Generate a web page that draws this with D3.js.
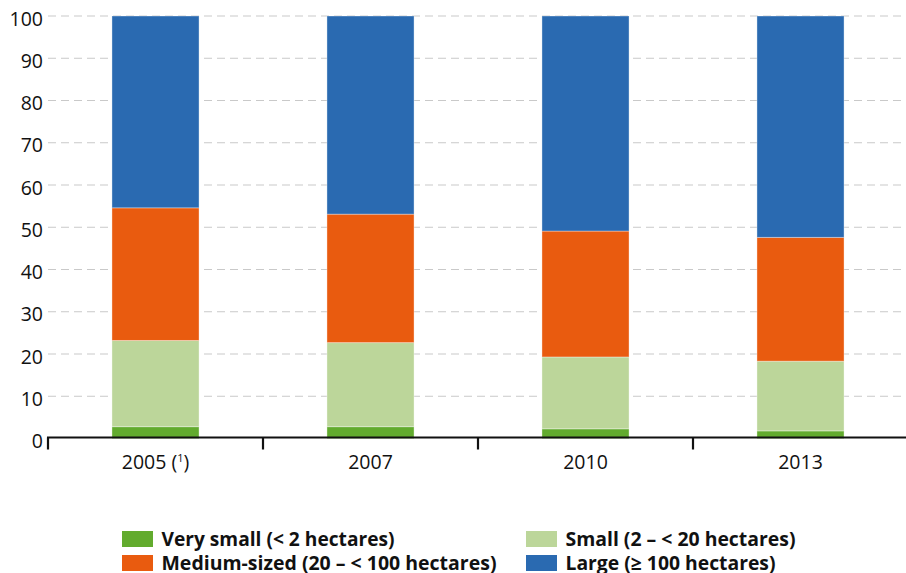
<!DOCTYPE html>
<html>
<head>
<meta charset="utf-8">
<script src="https://cdn.jsdelivr.net/npm/d3@7"></script>
<style>
  html, body { margin: 0; padding: 0; background: #fff; }
  svg { display: block; font-family: "Open Sans", "Noto Sans", sans-serif; }
</style>
</head>
<body>
<svg id="chart" width="906" height="573"></svg>
<script>
const categories = ["2005", "2007", "2010", "2013"];
const categoryNotes = ["1", "", "", ""];
const verySmall = [2.8, 2.8, 2.3, 1.8];
const small = [20.4, 19.9, 17.0, 16.5];
const medium = [31.4, 30.4, 29.8, 29.3];
const large = [45.4, 46.9, 50.9, 52.4];
const yTicks = [0, 10, 20, 30, 40, 50, 60, 70, 80, 90, 100];
const seriesNames = ["Very small (< 2 hectares)", "Small (2 – < 20 hectares)", "Medium-sized (20 – < 100 hectares)", "Large (≥ 100 hectares)"];
const seriesKeys = ["verySmall", "small", "medium", "large"];
const colors = ["#62ab2e", "#bcd69a", "#e95b0f", "#2a6ab1"];

(function () {
const svg = d3.select("#chart");
const W = 906;
const mLeft = 48, mRight = 908, mTop = 16, mBottom = 438.5;

const rows = categories.map((c, i) => ({
  cat: c, verySmall: verySmall[i], small: small[i], medium: medium[i], large: large[i]
}));
const stacked = d3.stack().keys(seriesKeys)(rows);

const x = d3.scaleBand().domain(categories).range([mLeft, mRight]).padding(0);
const y = d3.scaleLinear().domain([0, 100]).range([mBottom, mTop]);
const barW = x.bandwidth() * 0.405;

// gridlines
svg.append("g").selectAll("line")
  .data(yTicks.filter(t => t > 0))
  .join("line")
  .attr("x1", mLeft).attr("x2", W)
  .attr("y1", d => y(d)).attr("y2", d => y(d))
  .attr("stroke", "#c9c9c9").attr("stroke-width", 1)
  .attr("stroke-dasharray", "8,5");

// y labels
svg.append("g").selectAll("text")
  .data(yTicks)
  .join("text")
  .attr("x", 43)
  .attr("y", d => y(d) + 2)
  .attr("text-anchor", "end")
  .attr("dominant-baseline", "central")
  .attr("font-size", 19.5)
  .attr("fill", "#111")
  .text(d => d);

// bars
svg.append("g").selectAll("g")
  .data(stacked)
  .join("g")
  .attr("fill", (d, i) => colors[i])
  .selectAll("rect")
  .data(d => d)
  .join("rect")
  .attr("x", d => x(d.data.cat) + (x.bandwidth() - barW) / 2)
  .attr("width", barW)
  .attr("y", d => y(d[1]))
  .attr("height", d => y(d[0]) - y(d[1]))
  .attr("stroke", "#ffffff")
  .attr("stroke-opacity", 0.35)
  .attr("stroke-width", 1);

// x axis
const xAxis = d3.axisBottom(x).tickSize(0).tickFormat("");
const ax = svg.append("g").attr("transform", `translate(0,${mBottom - 1})`).call(xAxis);
ax.select(".domain").remove();
ax.append("line").attr("x1", mLeft - 1).attr("x2", W).attr("y1", 0).attr("y2", 0)
  .attr("stroke", "#111").attr("stroke-width", 2.2);
const bounds = categories.map(c => x(c));
ax.selectAll(".bound").data(bounds).join("line")
  .attr("class", "bound")
  .attr("x1", d => d).attr("x2", d => d)
  .attr("y1", 0).attr("y2", 12)
  .attr("stroke", "#111").attr("stroke-width", 2.2);

// x labels
const xl = svg.append("g").selectAll("text")
  .data(categories)
  .join("text")
  .attr("x", d => x(d) + x.bandwidth() / 2)
  .attr("y", 469)
  .attr("text-anchor", "middle")
  .attr("font-size", 19.5)
  .attr("fill", "#111");
xl.each(function(d, i) {
  const t = d3.select(this);
  t.append("tspan").text(d);
  if (categoryNotes[i]) {
    t.append("tspan").text(" (");
    t.append("tspan").attr("font-size", 11).attr("dy", -7).text(categoryNotes[i]);
    t.append("tspan").attr("dy", 7).text(")");
  }
});

// legend
const legendPos = [
  {x: 122, y: 531, tl: 233},
  {x: 526, y: 531, tl: 230},
  {x: 122, y: 555, tl: 335},
  {x: 526, y: 555, tl: 210}
];
const lg = svg.append("g").selectAll("g")
  .data(seriesNames)
  .join("g")
  .attr("transform", (d, i) => `translate(${legendPos[i].x},${legendPos[i].y})`);
lg.append("rect").attr("width", 31).attr("height", 16).attr("fill", (d, i) => colors[i]);
lg.append("text")
  .attr("x", 39.5).attr("y", 15)
  .attr("font-size", 19).attr("font-weight", 700).attr("fill", "#111")
  .attr("textLength", (d, i) => legendPos[i].tl)
  .attr("lengthAdjust", "spacingAndGlyphs")
  .text(d => d);
})();
</script>
</body>
</html>
